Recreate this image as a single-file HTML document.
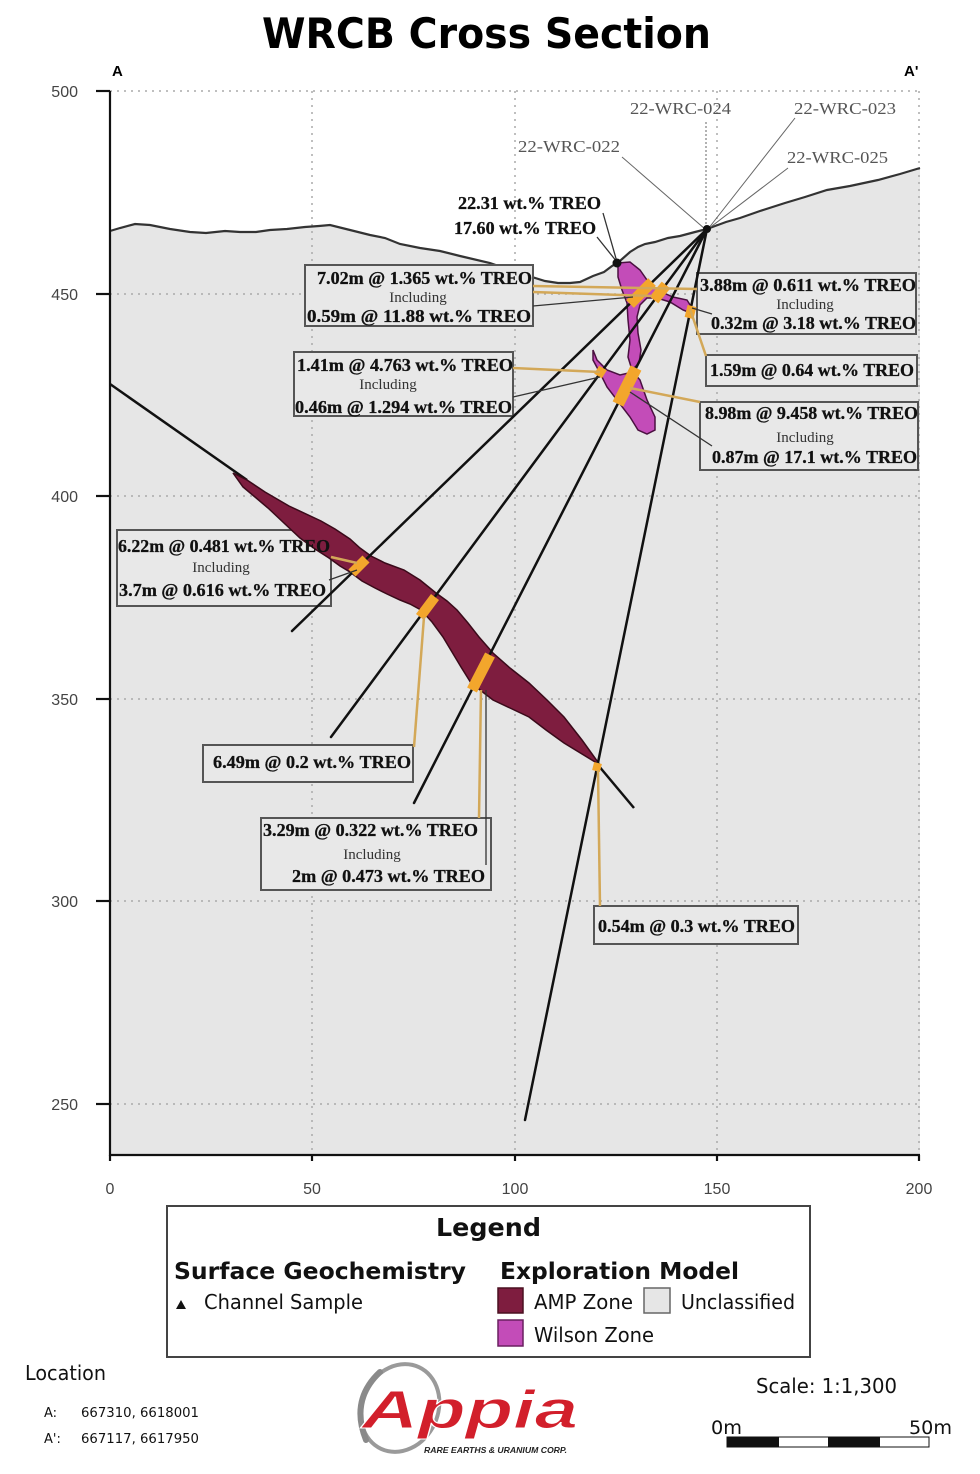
<!DOCTYPE html>
<html>
<head>
<meta charset="utf-8">
<style>
html,body{margin:0;padding:0;background:#fff;}
svg{display:block;}
.bx{font-family:"Liberation Serif",serif;font-weight:bold;font-size:18px;fill:#111;stroke:#111;stroke-width:0.3;}
.inc{font-family:"Liberation Serif",serif;font-size:15px;fill:#333;}
.hl{font-family:"Liberation Serif",serif;font-size:17px;fill:#555;}
.tk{font-family:"Liberation Sans",sans-serif;font-size:16px;fill:#444;}
.lg{font-family:"DejaVu Sans","Liberation Sans",sans-serif;fill:#111;}
</style>
</head>
<body>
<svg width="980" height="1474" viewBox="0 0 980 1474" xmlns="http://www.w3.org/2000/svg">
<rect x="0" y="0" width="980" height="1474" fill="#fff"/>

<!-- Title -->
<text x="262" y="48" font-family="DejaVu Sans, Liberation Sans, sans-serif" font-weight="bold" font-size="42" textLength="449" lengthAdjust="spacingAndGlyphs" fill="#000">WRCB Cross Section</text>
<text x="112" y="76" font-family="Liberation Sans, sans-serif" font-weight="bold" font-size="15" fill="#000">A</text>
<text x="904" y="76" font-family="Liberation Sans, sans-serif" font-weight="bold" font-size="15" fill="#000">A'</text>

<!-- Gray fill under terrain -->
<path d="M110,231 L120,228 L135,224 L150,225 L170,229 L190,232 L206,233 L225,231 L240,232 L256,232 L270,230 L287,229 L305,227 L319,226 L330,225 L350,230 L370,235 L385,238 L400,244 L420,248 L440,251 L460,256 L490,263 L510,270 L532,277 L545,281 L558,283 L570,283 L580,282 L593,276 L604,272 L612,266 L617,263 L621,260 L630,252 L638,247 L645,244 L655,242 L668,238 L680,236 L695,232 L707,229 L726,222 L740,218 L760,211 L785,203 L805,197 L827,190 L850,186 L878,180 L900,174 L920,168 L920,1155 L110,1155 Z" fill="#e6e6e6"/>

<!-- Grid -->
<g stroke="#aaa" stroke-width="1.5" stroke-dasharray="2,5" fill="none">
<line x1="110" y1="91" x2="920" y2="91"/>
<line x1="110" y1="294" x2="920" y2="294"/>
<line x1="110" y1="496" x2="920" y2="496"/>
<line x1="110" y1="699" x2="920" y2="699"/>
<line x1="110" y1="901" x2="920" y2="901"/>
<line x1="110" y1="1104" x2="920" y2="1104"/>
<line x1="312" y1="91" x2="312" y2="1155"/>
<line x1="515" y1="91" x2="515" y2="1155"/>
<line x1="717" y1="91" x2="717" y2="1155"/>
<line x1="919" y1="91" x2="919" y2="1155"/>
</g>

<!-- Terrain line -->
<path d="M110,231 L120,228 L135,224 L150,225 L170,229 L190,232 L206,233 L225,231 L240,232 L256,232 L270,230 L287,229 L305,227 L319,226 L330,225 L350,230 L370,235 L385,238 L400,244 L420,248 L440,251 L460,256 L490,263 L510,270 L532,277 L545,281 L558,283 L570,283 L580,282 L593,276 L604,272 L612,266 L617,263 L621,260 L630,252 L638,247 L645,244 L655,242 L668,238 L680,236 L695,232 L707,229 L726,222 L740,218 L760,211 L785,203 L805,197 L827,190 L850,186 L878,180 L900,174 L920,168" fill="none" stroke="#333" stroke-width="2.2"/>

<!-- Axes -->
<g stroke="#111" stroke-width="2.2">
<line x1="110" y1="91" x2="110" y2="1156"/>
<line x1="109" y1="1155" x2="920" y2="1155"/>
<line x1="96" y1="91" x2="110" y2="91"/>
<line x1="96" y1="294" x2="110" y2="294"/>
<line x1="96" y1="496" x2="110" y2="496"/>
<line x1="96" y1="699" x2="110" y2="699"/>
<line x1="96" y1="901" x2="110" y2="901"/>
<line x1="96" y1="1104" x2="110" y2="1104"/>
<line x1="110" y1="1155" x2="110" y2="1161"/>
<line x1="312" y1="1155" x2="312" y2="1161"/>
<line x1="515" y1="1155" x2="515" y2="1161"/>
<line x1="717" y1="1155" x2="717" y2="1161"/>
<line x1="919" y1="1155" x2="919" y2="1161"/>
</g>
<g class="tk" text-anchor="end">
<text x="78" y="97">500</text>
<text x="78" y="300">450</text>
<text x="78" y="502">400</text>
<text x="78" y="705">350</text>
<text x="78" y="907">300</text>
<text x="78" y="1110">250</text>
</g>
<g class="tk" text-anchor="middle">
<text x="110" y="1194">0</text>
<text x="312" y="1194">50</text>
<text x="515" y="1194">100</text>
<text x="717" y="1194">150</text>
<text x="919" y="1194">200</text>
</g>

<!-- Annotation boxes -->
<g fill="#e8e8e8" stroke="#555" stroke-width="2">
<rect x="305" y="265" width="228" height="61"/>
<rect x="697" y="273" width="219" height="61"/>
<rect x="706" y="355" width="211" height="31"/>
<rect x="294" y="352" width="219" height="64"/>
<rect x="700" y="402" width="218" height="68"/>
<rect x="117" y="530" width="214" height="76"/>
<rect x="203" y="745" width="210" height="37"/>
<rect x="261" y="818" width="230" height="72"/>
<rect x="594" y="906" width="204" height="38"/>
</g>

<!-- AMP zone -->
<line x1="110" y1="384" x2="247" y2="480" stroke="#111" stroke-width="2.5"/>
<path d="M233,473 L247,480 L265,492 L289,506 L321,521 L335,529 L350,539 L360,548 L371,556 L385,563 L404,570 L420,580 L436,593 L447,601 L457,610 L468,623 L479,637 L493,653 L510,668 L529,683 L547,700 L564,717 L582,740 L600,765 L582,754 L564,743 L546,730 L529,717 L510,708 L493,700 L480,690 L471,683 L461,667 L452,652 L443,637 L432,622 L421,610 L410,604 L400,600 L387,594 L375,588 L362,581 L350,572 L340,566 L329,558 L315,549 L300,538 L285,524 L268,508 L255,497 L243,487 Z" fill="#7e1d3f" stroke="#3a0a1a" stroke-width="1.5"/>
<line x1="598" y1="765" x2="634" y2="808" stroke="#111" stroke-width="2.5"/>

<!-- Wilson zone -->
<path d="M618,263 L630,262 L640,270 L647,280 L657,290 L673,297 L687,300 L692,308 L688,312 L683,310 L670,302 L657,298 L647,298 L640,305 L637,317 L638,333 L641,350 L639,363 L632,370 L628,357 L630,340 L628,320 L627,303 L622,290 L618,277 Z" fill="#c34cb8" stroke="#4a1040" stroke-width="1.5"/>
<path d="M593,350 L597,360 L607,370 L620,375 L633,372 L640,380 L647,400 L655,417 L655,430 L647,434 L638,430 L630,417 L617,400 L607,387 L600,373 L593,360 Z" fill="#c34cb8" stroke="#4a1040" stroke-width="1.5"/>

<!-- Hole label leaders -->
<g stroke="#666" stroke-width="1" fill="none">
<line x1="622" y1="157" x2="705" y2="229"/>
<line x1="706" y1="122" x2="706" y2="229" stroke-dasharray="2,2"/>
<line x1="795" y1="118" x2="708" y2="229"/>
<line x1="788" y1="168" x2="708" y2="229"/>
</g>

<!-- Drill holes -->
<g stroke="#111" stroke-width="2.5" stroke-linecap="round">
<line x1="707" y1="229" x2="292" y2="631"/>
<line x1="707" y1="229" x2="331" y2="737"/>
<line x1="707" y1="229" x2="414" y2="803"/>
<line x1="707" y1="229" x2="525" y2="1120"/>
</g>
<circle cx="707" cy="229" r="4" fill="#111"/>

<!-- Orange intercepts -->
<g stroke="#f3a62c" stroke-linecap="butt">
<line x1="366" y1="559" x2="352" y2="573" stroke-width="10"/>
<line x1="435" y1="597" x2="420" y2="617" stroke-width="10"/>
<line x1="490" y1="655" x2="472" y2="690" stroke-width="11"/>
<line x1="598" y1="763" x2="596" y2="771" stroke-width="8"/>
<line x1="652" y1="282" x2="630" y2="304" stroke-width="11"/>
<line x1="666" y1="285" x2="654" y2="300" stroke-width="11"/>
<line x1="692" y1="306" x2="689" y2="318" stroke-width="9"/>
<line x1="603" y1="368" x2="598" y2="376" stroke-width="9"/>
<line x1="636" y1="368" x2="618" y2="404" stroke-width="12"/>
</g>

<!-- Leader lines -->
<g stroke="#d3a858" stroke-width="2.5" fill="none">
<line x1="533" y1="286" x2="697" y2="289"/>
<line x1="533" y1="292" x2="652" y2="296"/>
<line x1="690" y1="309" x2="706" y2="356"/>
<line x1="513" y1="368" x2="600" y2="372"/>
<line x1="630" y1="388" x2="700" y2="402"/>
<line x1="331" y1="557" x2="357" y2="563"/>
<line x1="414" y1="747" x2="424" y2="617"/>
<line x1="479" y1="818" x2="481" y2="690"/>
<line x1="600" y1="906" x2="598" y2="770"/>
</g>
<g stroke="#333" stroke-width="1.3" fill="none">
<line x1="533" y1="306" x2="633" y2="297"/>
<line x1="692" y1="308" x2="712" y2="314"/>
<line x1="513" y1="397" x2="600" y2="377"/>
<line x1="630" y1="392" x2="712" y2="446"/>
<line x1="329" y1="580" x2="357" y2="570"/>
<line x1="486" y1="690" x2="486" y2="865"/>
<line x1="603" y1="213" x2="617" y2="262"/>
<line x1="597" y1="237" x2="617" y2="262"/>
</g>
<circle cx="617" cy="263" r="4.5" fill="#111"/>

<!-- Hole labels -->
<text class="hl" x="630" y="114" textLength="101" lengthAdjust="spacingAndGlyphs">22-WRC-024</text>
<text class="hl" x="794" y="114" textLength="102" lengthAdjust="spacingAndGlyphs">22-WRC-023</text>
<text class="hl" x="518" y="152" textLength="102" lengthAdjust="spacingAndGlyphs">22-WRC-022</text>
<text class="hl" x="787" y="163" textLength="101" lengthAdjust="spacingAndGlyphs">22-WRC-025</text>

<!-- Grade texts -->
<text class="bx" x="458" y="209" textLength="143" lengthAdjust="spacingAndGlyphs">22.31 wt.% TREO</text>
<text class="bx" x="454" y="234" textLength="142" lengthAdjust="spacingAndGlyphs">17.60 wt.% TREO</text>

<text class="bx" x="317" y="284" textLength="215" lengthAdjust="spacingAndGlyphs">7.02m @ 1.365 wt.% TREO</text>
<text class="inc" x="418" y="302" text-anchor="middle">Including</text>
<text class="bx" x="307" y="322" textLength="224" lengthAdjust="spacingAndGlyphs">0.59m @ 11.88 wt.% TREO</text>

<text class="bx" x="700" y="291" textLength="216" lengthAdjust="spacingAndGlyphs">3.88m @ 0.611 wt.% TREO</text>
<text class="inc" x="805" y="309" text-anchor="middle">Including</text>
<text class="bx" x="711" y="329" textLength="205" lengthAdjust="spacingAndGlyphs">0.32m @ 3.18 wt.% TREO</text>

<text class="bx" x="710" y="376" textLength="204" lengthAdjust="spacingAndGlyphs">1.59m @ 0.64 wt.% TREO</text>

<text class="bx" x="297" y="371" textLength="216" lengthAdjust="spacingAndGlyphs">1.41m @ 4.763 wt.% TREO</text>
<text class="inc" x="388" y="389" text-anchor="middle">Including</text>
<text class="bx" x="295" y="413" textLength="217" lengthAdjust="spacingAndGlyphs">0.46m @ 1.294 wt.% TREO</text>

<text class="bx" x="705" y="419" textLength="213" lengthAdjust="spacingAndGlyphs">8.98m @ 9.458 wt.% TREO</text>
<text class="inc" x="805" y="442" text-anchor="middle">Including</text>
<text class="bx" x="712" y="463" textLength="205" lengthAdjust="spacingAndGlyphs">0.87m @ 17.1 wt.% TREO</text>

<text class="bx" x="118" y="552" textLength="212" lengthAdjust="spacingAndGlyphs">6.22m @ 0.481 wt.% TREO</text>
<text class="inc" x="221" y="572" text-anchor="middle">Including</text>
<text class="bx" x="119" y="596" textLength="207" lengthAdjust="spacingAndGlyphs">3.7m @ 0.616 wt.% TREO</text>

<text class="bx" x="213" y="768" textLength="198" lengthAdjust="spacingAndGlyphs">6.49m @ 0.2 wt.% TREO</text>

<text class="bx" x="263" y="836" textLength="215" lengthAdjust="spacingAndGlyphs">3.29m @ 0.322 wt.% TREO</text>
<text class="inc" x="372" y="859" text-anchor="middle">Including</text>
<text class="bx" x="292" y="882" textLength="193" lengthAdjust="spacingAndGlyphs">2m @ 0.473 wt.% TREO</text>

<text class="bx" x="598" y="932" textLength="197" lengthAdjust="spacingAndGlyphs">0.54m @ 0.3 wt.% TREO</text>

<!-- Legend -->
<rect x="167" y="1206" width="643" height="151" fill="#fff" stroke="#444" stroke-width="2"/>
<text class="lg" x="436" y="1236" font-size="25" font-weight="bold" textLength="105" lengthAdjust="spacingAndGlyphs">Legend</text>
<text class="lg" x="174" y="1279" font-size="23" font-weight="bold" textLength="292" lengthAdjust="spacingAndGlyphs">Surface Geochemistry</text>
<text class="lg" x="500" y="1279" font-size="23" font-weight="bold" textLength="239" lengthAdjust="spacingAndGlyphs">Exploration Model</text>
<polygon points="181,1300 186,1309 176,1309" fill="#111"/>
<text class="lg" x="204" y="1309" font-size="20" fill="#222" textLength="159" lengthAdjust="spacingAndGlyphs">Channel Sample</text>
<rect x="498" y="1288" width="25" height="25" fill="#7e1d3f" stroke="#4a1020" stroke-width="1.5"/>
<text class="lg" x="534" y="1309" font-size="20" fill="#222" textLength="99" lengthAdjust="spacingAndGlyphs">AMP Zone</text>
<rect x="644" y="1288" width="26" height="25" fill="#e6e6e6" stroke="#666" stroke-width="1.5"/>
<text class="lg" x="681" y="1309" font-size="20" fill="#222" textLength="114" lengthAdjust="spacingAndGlyphs">Unclassified</text>
<rect x="498" y="1320" width="25" height="26" fill="#c34cb8" stroke="#6a2060" stroke-width="1.5"/>
<text class="lg" x="534" y="1342" font-size="20" fill="#222" textLength="120" lengthAdjust="spacingAndGlyphs">Wilson Zone</text>

<!-- Location -->
<text class="lg" x="25" y="1380" font-size="20" fill="#222" textLength="81" lengthAdjust="spacingAndGlyphs">Location</text>
<text class="lg" x="44" y="1417" font-size="13" fill="#333">A:</text>
<text class="lg" x="81" y="1417" font-size="13" fill="#333" textLength="118" lengthAdjust="spacingAndGlyphs">667310, 6618001</text>
<text class="lg" x="44" y="1443" font-size="13" fill="#333">A':</text>
<text class="lg" x="81" y="1443" font-size="13" fill="#333" textLength="118" lengthAdjust="spacingAndGlyphs">667117, 6617950</text>

<!-- Appia logo -->
<ellipse cx="400" cy="1408" rx="38" ry="45" transform="rotate(25 400 1408)" fill="none" stroke="#9a9a9a" stroke-width="4"/>
<path d="M380,1372 Q350,1400 366,1440" fill="none" stroke="#8a8a8a" stroke-width="6" stroke-linecap="round"/>
<text x="362" y="1428" font-family="Liberation Sans, sans-serif" font-weight="bold" font-style="italic" font-size="54" fill="#d21f2b" stroke="#fff" stroke-width="1" textLength="216" lengthAdjust="spacingAndGlyphs">Appia</text>
<text x="424" y="1453" font-family="Liberation Sans, sans-serif" font-weight="bold" font-style="italic" font-size="8" fill="#222" textLength="143" lengthAdjust="spacingAndGlyphs">RARE EARTHS &amp; URANIUM CORP.</text>

<!-- Scale -->
<text class="lg" x="756" y="1393" font-size="20" fill="#222" textLength="141" lengthAdjust="spacingAndGlyphs">Scale: 1:1,300</text>
<text class="lg" x="711" y="1434" font-size="19" fill="#222" textLength="31" lengthAdjust="spacingAndGlyphs">0m</text>
<text class="lg" x="909" y="1434" font-size="19" fill="#222" textLength="43" lengthAdjust="spacingAndGlyphs">50m</text>
<rect x="727" y="1437" width="202" height="10" fill="#fff" stroke="#111" stroke-width="1"/>
<rect x="727" y="1437" width="52" height="10" fill="#111"/>
<rect x="828" y="1437" width="52" height="10" fill="#111"/>
</svg>
</body>
</html>
